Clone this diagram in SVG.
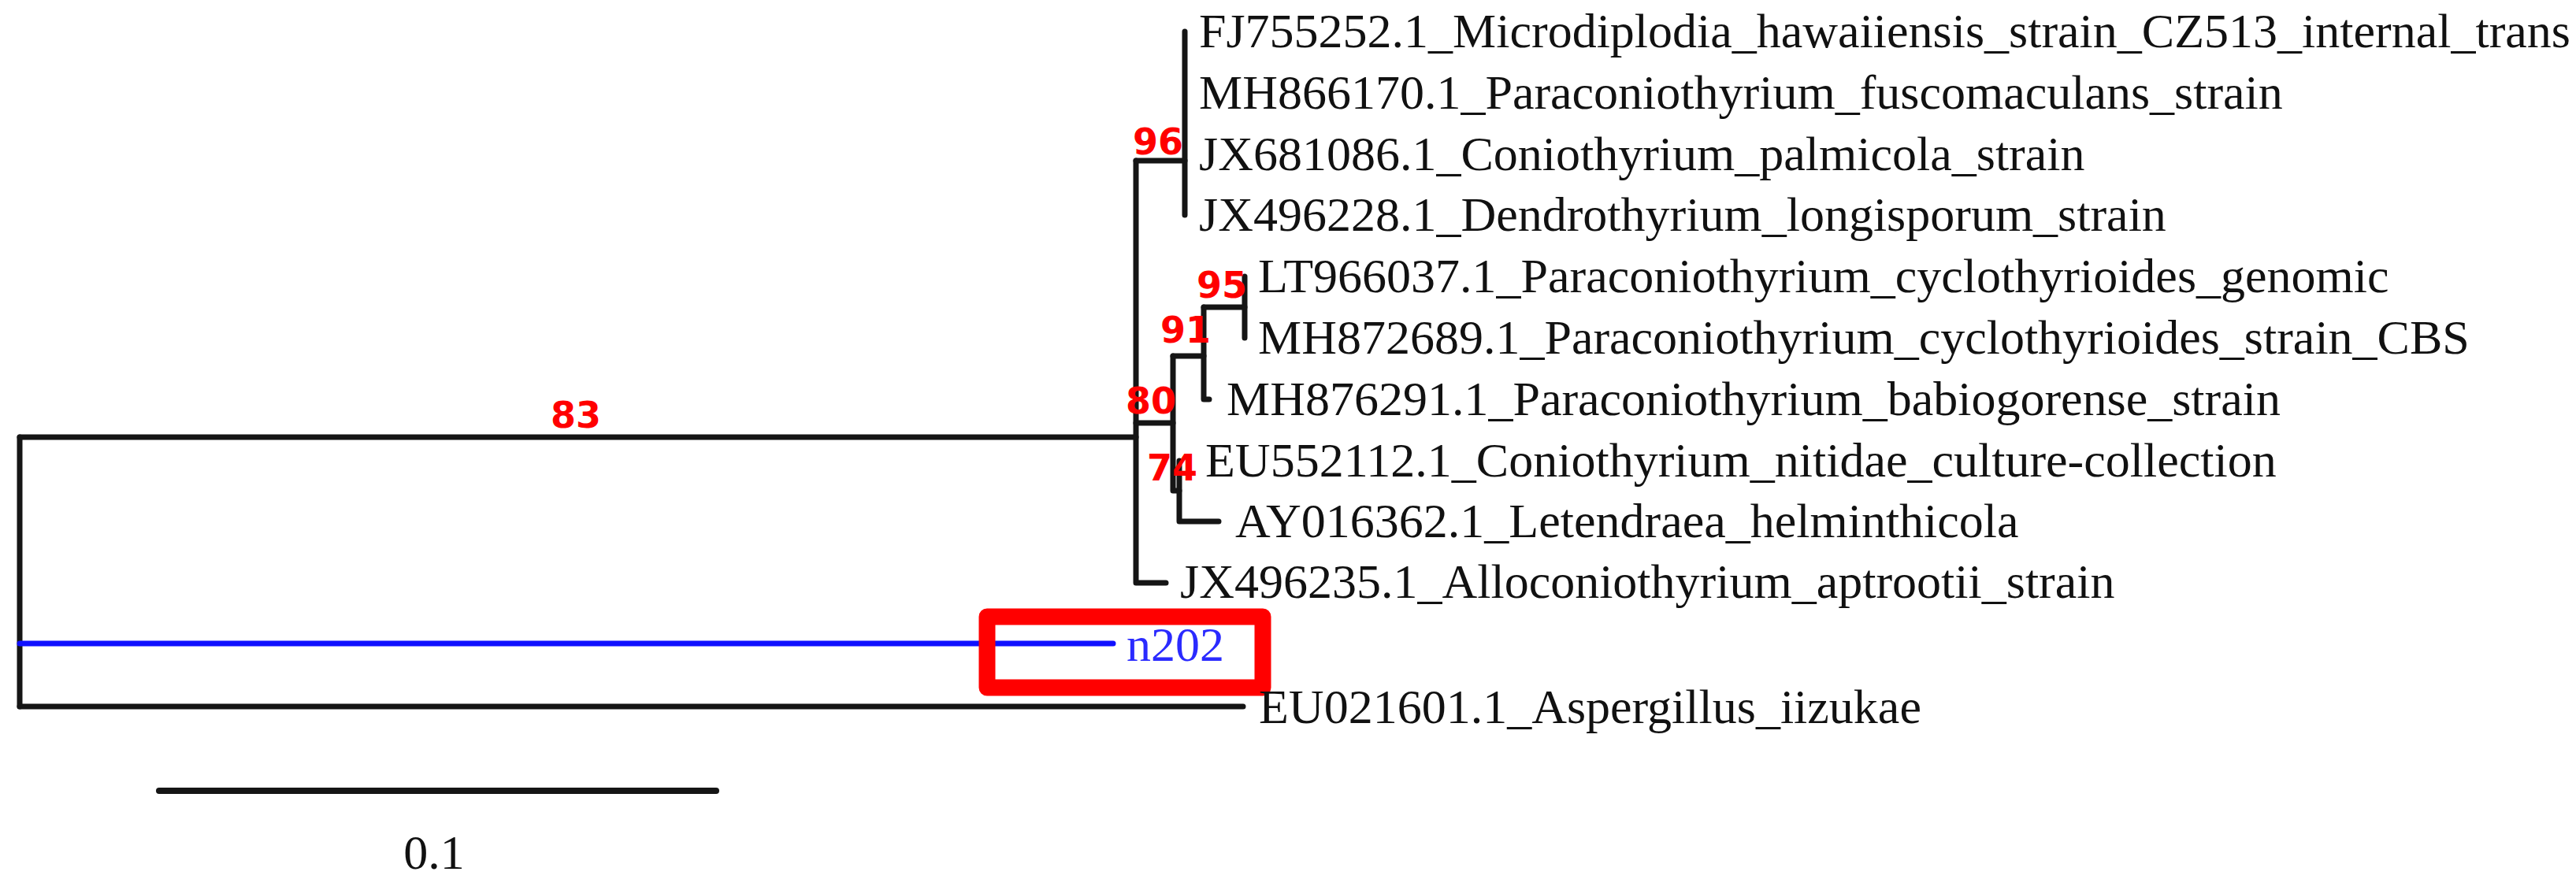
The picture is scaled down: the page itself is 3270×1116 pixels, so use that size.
<svg xmlns="http://www.w3.org/2000/svg" width="3270" height="1116" viewBox="0 0 3270 1116">
<style>
.br{fill:none;stroke:#151515;stroke-width:7;stroke-linecap:round;stroke-linejoin:round}
.blue{fill:none;stroke:#1010ff;stroke-width:7;stroke-linecap:round}
.lab{font-family:"Liberation Serif","Times New Roman",serif;font-size:62px;fill:#111}
.sup{font-family:"DejaVu Sans",sans-serif;font-weight:bold;font-size:46px;fill:#ff0000;text-anchor:end}
</style>
<rect width="3270" height="1116" fill="#ffffff"/>
<g id="connectors">
<path class="br" d="M25,555 V897"/>
<path class="br" d="M25,555 H1442"/>
<path class="br" d="M25,897 H1578"/>
<path class="blue" d="M25,817 H1413"/>
<path class="br" d="M1442,204 V740 H1480"/>
<path class="br" d="M1442,204 H1504"/>
<path class="br" d="M1504,40 V273"/>
<path class="br" d="M1442,537 H1489"/>
<path class="br" d="M1489,452 V623 H1497"/>
<path class="br" d="M1489,452 H1528"/>
<path class="br" d="M1528,390 V507 H1535"/>
<path class="br" d="M1528,390 H1580"/>
<path class="br" d="M1580,351 V429"/>
<path class="br" d="M1497,585 V662 H1547"/>
<path class="br" d="M202,1004 H909" style="stroke-width:8"/>
</g>
<g id="leaf-FJ755252"><text class="lab" x="1522" y="60">FJ755252.1_Microdiplodia_hawaiiensis_strain_CZ513_internal_trans</text></g>
<g id="leaf-MH866170"><text class="lab" x="1522" y="138">MH866170.1_Paraconiothyrium_fuscomaculans_strain</text></g>
<g id="leaf-JX681086"><text class="lab" x="1522" y="216">JX681086.1_Coniothyrium_palmicola_strain</text></g>
<g id="leaf-JX496228"><text class="lab" x="1522" y="293">JX496228.1_Dendrothyrium_longisporum_strain</text></g>
<g id="leaf-LT966037"><text class="lab" x="1597" y="371">LT966037.1_Paraconiothyrium_cyclothyrioides_genomic</text></g>
<g id="leaf-MH872689"><text class="lab" x="1597" y="449">MH872689.1_Paraconiothyrium_cyclothyrioides_strain_CBS</text></g>
<g id="leaf-MH876291"><text class="lab" x="1557" y="527">MH876291.1_Paraconiothyrium_babiogorense_strain</text></g>
<g id="leaf-EU552112"><text class="lab" x="1530" y="605">EU552112.1_Coniothyrium_nitidae_culture-collection</text></g>
<g id="leaf-AY016362"><text class="lab" x="1568" y="682">AY016362.1_Letendraea_helminthicola</text></g>
<g id="leaf-JX496235"><text class="lab" x="1498" y="759">JX496235.1_Alloconiothyrium_aptrootii_strain</text></g>
<g id="leaf-n202">
<rect x="1253" y="783" width="350" height="90" fill="none" stroke="#ff0000" stroke-width="21" stroke-linejoin="round"/>
<text class="lab" x="1430" y="839" style="fill:#2a2aff">n202</text>
</g>
<g id="leaf-EU021601"><text class="lab" x="1598" y="918">EU021601.1_Aspergillus_iizukae</text></g>
<g id="support">
<text class="sup" x="1502" y="196">96</text>
<text class="sup" x="1583" y="378">95</text>
<text class="sup" x="1537" y="435">91</text>
<text class="sup" x="1493" y="525">80</text>
<text class="sup" x="1520" y="610">74</text>
<text class="sup" x="731" y="543" style="text-anchor:middle">83</text>
</g>
<g id="scale"><text class="lab" x="551" y="1103" text-anchor="middle">0.1</text></g>
</svg>
